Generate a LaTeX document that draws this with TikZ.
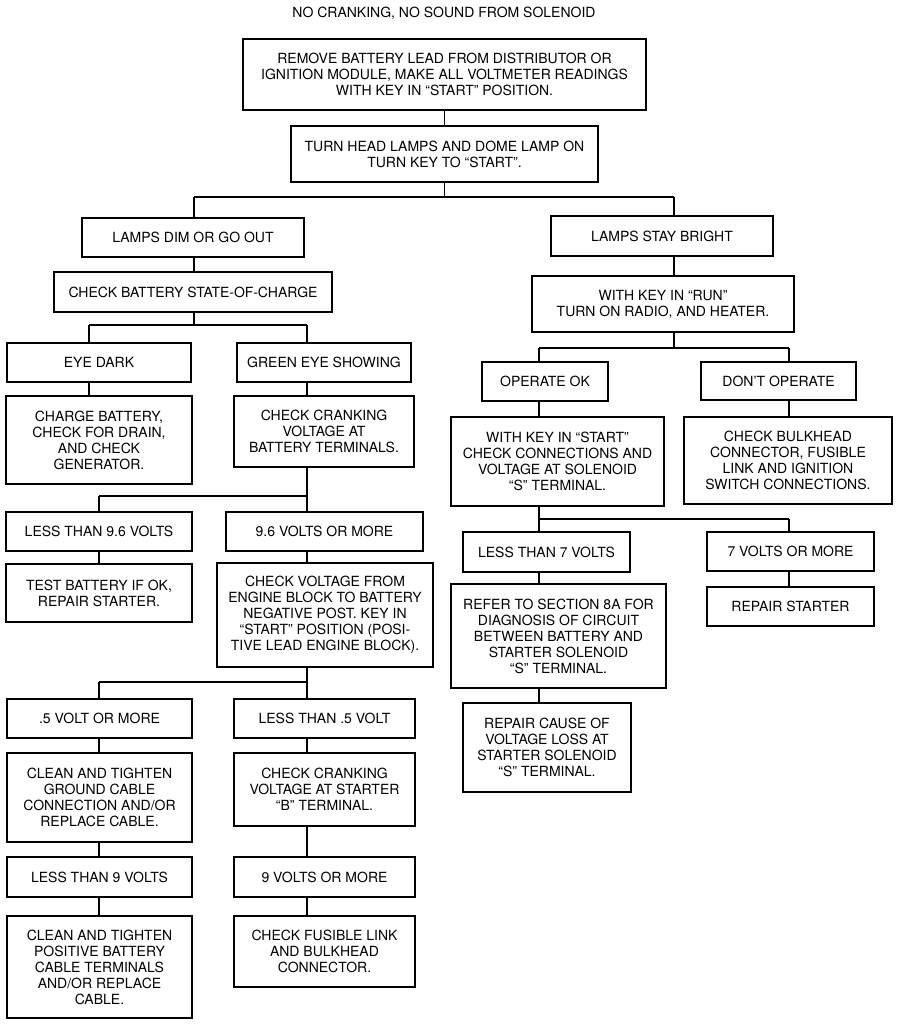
\documentclass[tikz,border=0pt]{standalone}
\usepackage{fontspec}
\setmainfont{TeX Gyre Heros}
\newcommand{\fsz}{\fontsize{14pt}{16pt}\selectfont}
\begin{document}
\begin{tikzpicture}[x=1pt,y=-1pt,
  box/.style={draw, line width=1.9pt, inner sep=0pt, align=center, font=\fsz},
  conn/.style={line width=1.9pt},
  plain/.style={inner sep=0pt, font=\fsz}]
\useasboundingbox (0,0) rectangle (899,1024);
\node[plain] (title) at (444,13) {NO CRANKING, NO SOUND FROM SOLENOID};
\node[box, minimum width=403pt, minimum height=71pt] (b1) at (444.5,74.5) {REMOVE BATTERY LEAD FROM DISTRIBUTOR OR\\IGNITION MODULE, MAKE ALL VOLTMETER READINGS\\WITH KEY IN “START” POSITION.};
\node[box, minimum width=307pt, minimum height=56pt] (b2) at (444.5,154) {TURN HEAD LAMPS AND DOME LAMP ON\\TURN KEY TO “START”.};
\node[box, minimum width=222pt, minimum height=39pt] (dim) at (193,237.5) {LAMPS DIM OR GO OUT};
\node[box, minimum width=222pt, minimum height=40pt] (bright) at (662,236) {LAMPS STAY BRIGHT};
\node[box, minimum width=278pt, minimum height=40pt] (soc) at (193,292) {CHECK BATTERY STATE-OF-CHARGE};
\node[box, minimum width=262pt, minimum height=56pt] (run) at (663,304) {WITH KEY IN “RUN”\\TURN ON RADIO, AND HEATER.};
\node[box, minimum width=184pt, minimum height=39pt] (eyed) at (99,362.5) {EYE DARK};
\node[box, minimum width=174pt, minimum height=39pt] (green) at (324,362.5) {GREEN EYE SHOWING};
\node[box, minimum width=186pt, minimum height=88pt] (charge) at (99,440) {CHARGE BATTERY,\\CHECK FOR DRAIN,\\AND CHECK\\GENERATOR.};
\node[box, minimum width=180pt, minimum height=71pt] (crank) at (324,431.5) {CHECK CRANKING\\VOLTAGE AT\\BATTERY TERMINALS.};
\node[box, minimum width=186pt, minimum height=39pt] (lt96) at (99,531.5) {LESS THAN 9.6 VOLTS};
\node[box, minimum width=197pt, minimum height=39pt] (ge96) at (324.5,531.5) {9.6 VOLTS OR MORE};
\node[box, minimum width=186pt, minimum height=58pt] (testb) at (99,593) {TEST BATTERY IF OK,\\REPAIR STARTER.};
\node[box, minimum width=216pt, minimum height=104pt] (cvf) at (325,615) {CHECK VOLTAGE FROM\\ENGINE BLOCK TO BATTERY\\NEGATIVE POST. KEY IN\\“START” POSITION (POSI-\\TIVE LEAD ENGINE BLOCK).};
\node[box, minimum width=185pt, minimum height=39pt] (ge05) at (99.5,718.5) {.5 VOLT OR MORE};
\node[box, minimum width=181pt, minimum height=39pt] (lt05) at (324.5,718.5) {LESS THAN .5 VOLT};
\node[box, minimum width=185pt, minimum height=89pt] (clean1) at (99.5,797.5) {CLEAN AND TIGHTEN\\GROUND CABLE\\CONNECTION AND/OR\\REPLACE CABLE.};
\node[box, minimum width=181pt, minimum height=73pt] (crankb) at (324.5,789.5) {CHECK CRANKING\\VOLTAGE AT STARTER\\“B” TERMINAL.};
\node[box, minimum width=185pt, minimum height=40pt] (lt9) at (99.5,877) {LESS THAN 9 VOLTS};
\node[box, minimum width=181pt, minimum height=40pt] (ge9) at (324.5,877) {9 VOLTS OR MORE};
\node[box, minimum width=185pt, minimum height=102pt] (clean2) at (99.5,967) {CLEAN AND TIGHTEN\\POSITIVE BATTERY\\CABLE TERMINALS\\AND/OR REPLACE\\CABLE.};
\node[box, minimum width=181pt, minimum height=71pt] (fuse) at (324.5,951.5) {CHECK FUSIBLE LINK\\AND BULKHEAD\\CONNECTOR.};
\node[box, minimum width=126pt, minimum height=39pt] (opok) at (545,381.5) {OPERATE OK};
\node[box, minimum width=155pt, minimum height=38pt] (dont) at (778.5,381) {DON’T OPERATE};
\node[box, minimum width=213pt, minimum height=89pt] (wks) at (557.5,461.5) {WITH KEY IN “START”\\CHECK CONNECTIONS AND\\VOLTAGE AT SOLENOID\\“S” TERMINAL.};
\node[box, minimum width=208pt, minimum height=87pt] (bulk) at (788,460.5) {CHECK BULKHEAD\\CONNECTOR, FUSIBLE\\LINK AND IGNITION\\SWITCH CONNECTIONS.};
\node[box, minimum width=167pt, minimum height=40pt] (lt7) at (546.5,552) {LESS THAN 7 VOLTS};
\node[box, minimum width=167pt, minimum height=39pt] (ge7) at (790.5,551.5) {7 VOLTS OR MORE};
\node[box, minimum width=215pt, minimum height=104pt] (refer) at (558.5,636) {REFER TO SECTION 8A FOR\\DIAGNOSIS OF CIRCUIT\\BETWEEN BATTERY AND\\STARTER SOLENOID\\“S” TERMINAL.};
\node[box, minimum width=167pt, minimum height=39pt] (repst) at (790.5,606.5) {REPAIR STARTER};
\node[box, minimum width=168pt, minimum height=89pt] (rcause) at (547,747.5) {REPAIR CAUSE OF\\VOLTAGE LOSS AT\\STARTER SOLENOID\\“S” TERMINAL.};
% junction coordinates
\coordinate (j1) at (444.5,197);
\coordinate (j1l) at (194,197);
\coordinate (j1r) at (674,197);
\coordinate (j2) at (194,325);
\coordinate (j2l) at (89,325);
\coordinate (j2r) at (307,325);
\coordinate (j3l) at (99,496);
\coordinate (j3r) at (307,496);
\coordinate (j4l) at (99,682);
\coordinate (j4r) at (307,682);
\coordinate (j5) at (674,348);
\coordinate (j5l) at (539,348);
\coordinate (j5r) at (789,348);
\coordinate (j6l) at (539,519);
\coordinate (j6r) at (789,519);
% connectors
\draw[conn] (b1.south) -- (b2.north);
\draw[conn] (b2.south) -- (j1);
\draw[conn] (j1l) -- (j1r);
\draw[conn] (j1l) -- (j1l |- dim.north);
\draw[conn] (j1r) -- (j1r |- bright.north);
\draw[conn] (j1l |- dim.south) -- (j1l |- soc.north);
\draw[conn] (j2 |- soc.south) -- (j2);
\draw[conn] (j2l) -- (j2r);
\draw[conn] (j2l) -- (j2l |- eyed.north);
\draw[conn] (j2r) -- (j2r |- green.north);
\draw[conn] (j2l |- eyed.south) -- (j2l |- charge.north);
\draw[conn] (j2r |- green.south) -- (j2r |- crank.north);
\draw[conn] (j3r |- crank.south) -- (j3r |- ge96.north);
\draw[conn] (j3l) -- (j3r);
\draw[conn] (j3l) -- (j3l |- lt96.north);
\draw[conn] (j3l |- lt96.south) -- (j3l |- testb.north);
\draw[conn] (j3r |- ge96.south) -- (j3r |- cvf.north);
\draw[conn] (j4r |- cvf.south) -- (j4r |- lt05.north);
\draw[conn] (j4l) -- (j4r);
\draw[conn] (j4l) -- (j4l |- ge05.north);
\draw[conn] (j4l |- ge05.south) -- (j4l |- clean1.north);
\draw[conn] (j4l |- clean1.south) -- (j4l |- lt9.north);
\draw[conn] (j4l |- lt9.south) -- (j4l |- clean2.north);
\draw[conn] (j4r |- lt05.south) -- (j4r |- crankb.north);
\draw[conn] (j4r |- crankb.south) -- (j4r |- ge9.north);
\draw[conn] (j4r |- ge9.south) -- (j4r |- fuse.north);
\draw[conn] (j1r |- bright.south) -- (j1r |- run.north);
\draw[conn] (j5 |- run.south) -- (j5);
\draw[conn] (j5l) -- (j5r);
\draw[conn] (j5l) -- (j5l |- opok.north);
\draw[conn] (j5r) -- (j5r |- dont.north);
\draw[conn] (j5l |- opok.south) -- (j5l |- wks.north);
\draw[conn] (j5r |- dont.south) -- (j5r |- bulk.north);
\draw[conn] (j6l |- wks.south) -- (j6l |- lt7.north);
\draw[conn] (j6l) -- (j6r);
\draw[conn] (j6r) -- (j6r |- ge7.north);
\draw[conn] (j6l |- lt7.south) -- (j6l |- refer.north);
\draw[conn] (j6l |- refer.south) -- (j6l |- rcause.north);
\draw[conn] (j6r |- ge7.south) -- (j6r |- repst.north);
\end{tikzpicture}
\end{document}
